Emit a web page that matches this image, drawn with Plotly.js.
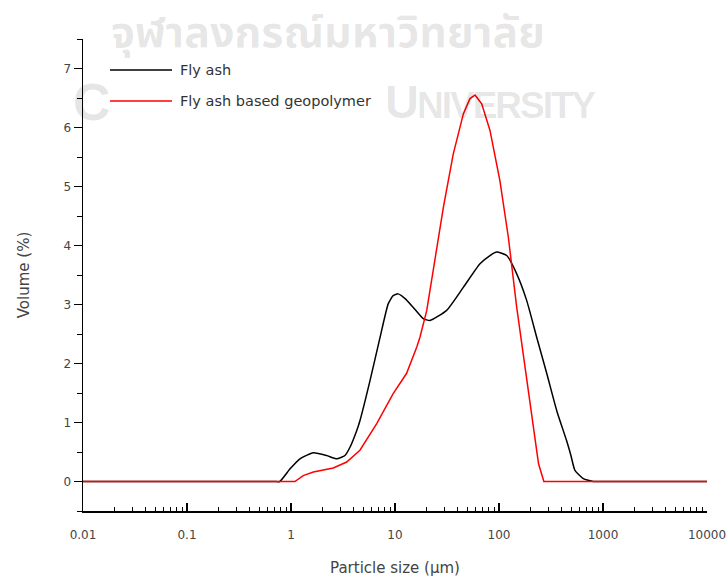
<!DOCTYPE html>
<html>
<head>
<meta charset="utf-8">
<script src="https://cdn.plot.ly/plotly-3.0.1.min.js"></script>
<style>html,body{margin:0;padding:0;background:#fff;}#chart{width:728px;height:578px;}</style>
</head>
<body>
<div id="chart"></div>
<script>
// Fly ash particle size distribution
const flyAshSize = [0.01, 0.5, 0.7, 0.78, 0.98, 1.22, 1.64, 2.2, 2.75, 3.3, 3.69, 4.28, 4.6, 5.75, 7.2, 8.6, 9.6, 10.7, 12.5, 15, 18.7, 21.7, 31.4, 45.4, 65.6, 81.9, 95, 118.6, 148, 184.5, 230, 288, 359, 447, 490, 537, 646, 805, 1000, 10000];
const flyAshVol  = [0, 0, 0, 0, 0.215, 0.385, 0.486, 0.44, 0.385, 0.44, 0.58, 0.86, 1.03, 1.71, 2.45, 3.01, 3.15, 3.18, 3.10, 2.95, 2.76, 2.73, 2.9, 3.29, 3.69, 3.83, 3.89, 3.83, 3.52, 3.07, 2.45, 1.83, 1.2, 0.69, 0.45, 0.19, 0.05, 0, 0, 0];
// Fly ash based geopolymer
const geoSize = [0.01, 1.09, 1.31, 1.64, 2.55, 3.43, 4.6, 6.67, 9.6, 12.9, 16.2, 17.4, 20.2, 23.4, 29.2, 36.3, 45.4, 52.6, 58.8, 68.2, 81.9, 102, 123, 148, 184.5, 222, 240, 270, 10000];
const geoVol  = [0, 0, 0.10, 0.16, 0.23, 0.33, 0.53, 0.98, 1.49, 1.83, 2.28, 2.45, 2.9, 3.6, 4.65, 5.55, 6.23, 6.49, 6.55, 6.4, 5.95, 5.1, 4.14, 2.95, 1.71, 0.69, 0.3, 0, 0];

const seriesNames = ["Fly ash", "Fly ash based geopolymer"];
const xTickVals = [0.01, 0.1, 1, 10, 100, 1000, 10000];
const xTickText = ["0.01", "0.1", "1", "10", "100", "1000", "10000"];
const yTickVals = [0, 1, 2, 3, 4, 5, 6, 7];

const W = 728, H = 578;
const M = {l: 83, r: 21, t: 39, b: 67};
const pw = W - M.l - M.r, ph = H - M.t - M.b;
const px = v => (v - M.l) / pw;
const py = v => (H - M.b - v) / ph;

const tickFont = {family: "DejaVu Sans, sans-serif", size: 12, color: "#444"};
const wm = "rgba(0,0,0,0.1)";
const wmFont = "Liberation Sans Narrow, Liberation Sans, sans-serif";

const traces = [
  {x: flyAshSize, y: flyAshVol, name: seriesNames[0], mode: "lines", line: {color: "#000", width: 1.5, shape: "spline", smoothing: 0.5}},
  {x: geoSize, y: geoVol, name: seriesNames[1], mode: "lines", line: {color: "#ff0000", width: 1.5}}
];

const layout = {
  width: W, height: H,
  margin: M,
  paper_bgcolor: "#fff", plot_bgcolor: "#fff",
  showlegend: false,
  xaxis: {
    type: "log", range: [-2, 4],
    tickvals: xTickVals, ticktext: xTickText,
    ticks: "inside", ticklen: 8, tickwidth: 1.2, tickcolor: "#000",
    minor: {ticks: "inside", ticklen: 4, tickwidth: 1, tickcolor: "#000", dtick: "D1", showgrid: false},
    showline: true, linecolor: "#000", linewidth: 1.5,
    showgrid: false, zeroline: false,
    tickfont: tickFont, ticklabelstandoff: 12,
    title: {text: "Particle size (μm)", font: {family: "DejaVu Sans, sans-serif", size: 15, color: "#444"}, standoff: 21},
    automargin: false
  },
  yaxis: {
    range: [-0.5, 7.5],
    tickvals: yTickVals,
    ticks: "outside", ticklen: 8, tickwidth: 1.2, tickcolor: "#000",
    minor: {ticks: "outside", ticklen: 5, tickwidth: 1, tickcolor: "#000", dtick: 0.5, showgrid: false},
    showline: true, linecolor: "#000", linewidth: 1.5,
    showgrid: false, zeroline: false,
    tickfont: tickFont,
    title: {text: "Volume (%)", font: {family: "DejaVu Sans, sans-serif", size: 15, color: "#444"}, standoff: 30},
    automargin: false
  },
  shapes: [
    {type: "line", xref: "paper", yref: "paper", x0: px(110), x1: px(172), y0: py(70), y1: py(70), line: {color: "#000", width: 1.5}},
    {type: "line", xref: "paper", yref: "paper", x0: px(110), x1: px(172), y0: py(101), y1: py(101), line: {color: "#ff0000", width: 1.5}}
  ],
  annotations: [
    {text: "จุฬาลงกรณ์มหาวิทยาลัย", xref: "paper", yref: "paper", x: px(328), y: py(34), xanchor: "center", yanchor: "middle", showarrow: false,
     font: {family: "Noto Sans Thai, Noto Sans, DejaVu Sans, sans-serif", size: 43, color: wm, weight: "bold"}},
    {text: "C", xref: "paper", yref: "paper", x: px(71), y: py(102), xanchor: "left", yanchor: "middle", showarrow: false,
     font: {family: wmFont, size: 52, color: wm, weight: "bold"}},
    {text: "<span style='letter-spacing:-2px'>U<span style='font-size:37px'>NIVERSITY</span></span>", xref: "paper", yref: "paper", x: px(383), y: py(101), xanchor: "left", yanchor: "middle", showarrow: false,
     font: {family: wmFont, size: 47, color: wm, weight: "bold"}},
    {text: seriesNames[0], xref: "paper", yref: "paper", x: px(178), y: py(70), xanchor: "left", yanchor: "middle", showarrow: false,
     font: {family: "DejaVu Sans, sans-serif", size: 14.5, color: "#333"}},
    {text: seriesNames[1], xref: "paper", yref: "paper", x: px(178), y: py(101), xanchor: "left", yanchor: "middle", showarrow: false,
     font: {family: "DejaVu Sans, sans-serif", size: 14.5, color: "#333"}}
  ]
};

Plotly.newPlot("chart", traces, layout, {displayModeBar: false, staticPlot: true});
</script>
</body>
</html>
